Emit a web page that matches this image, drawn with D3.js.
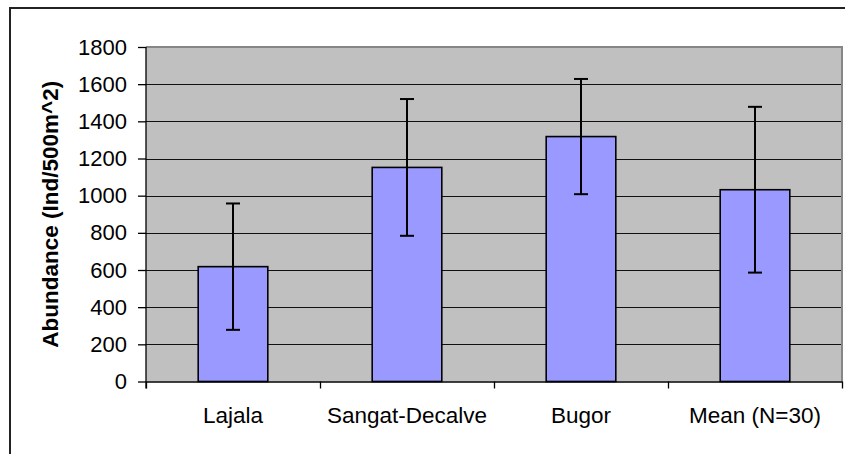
<!DOCTYPE html>
<html>
<head>
<meta charset="utf-8">
<script src="https://cdn.jsdelivr.net/npm/d3@7"></script>
<style>
  body { margin: 0; background: #fff; }
  svg text { font-family: "Liberation Sans", Arial, sans-serif; fill: #000; }
</style>
</head>
<body>
<script>
// data
const categories = ["Lajala", "Sangat-Decalve", "Bugor", "Mean (N=30)"];
const abundance = [618, 1152, 1318, 1032];
const stdError = [340, 368, 310, 446];
const yTicks = [0, 200, 400, 600, 800, 1000, 1200, 1400, 1600, 1800];

const width = 845;
const height = 454;
const plot = { left: 146, right: 842, top: 47, bottom: 381.5 };

const svg = d3.select("body")
    .append("svg")
    .attr("width", width)
    .attr("height", height);

// outer chart border (only top and left edges show in the crop)
svg.append("path")
    .attr("d", `M10,${height} V8 H${width}`)
    .attr("fill", "none")
    .attr("stroke", "#222")
    .attr("stroke-width", 2);

const x = d3.scaleBand()
    .domain(categories)
    .range([plot.left, plot.right])
    .paddingInner(0.6)
    .paddingOuter(0.3);

const y = d3.scaleLinear()
    .domain([0, 1800])
    .range([plot.bottom, plot.top]);

// grey plot area
svg.append("rect")
    .attr("x", plot.left)
    .attr("y", plot.top)
    .attr("width", plot.right - plot.left)
    .attr("height", plot.bottom - plot.top)
    .attr("fill", "#c0c0c0");

// gridlines
svg.append("g")
    .selectAll("line")
    .data(yTicks.filter(d => d > 0 && d < 1800))
    .enter()
    .append("line")
    .attr("x1", plot.left)
    .attr("x2", plot.right)
    .attr("y1", d => Math.round(y(d)) + 0.5)
    .attr("y2", d => Math.round(y(d)) + 0.5)
    .attr("stroke", "#111")
    .attr("stroke-width", 1);

// top and right border of plot area
svg.append("path")
    .attr("d", `M${plot.left},${plot.top} H${plot.right} V${plot.bottom}`)
    .attr("fill", "none")
    .attr("stroke", "#868686")
    .attr("stroke-width", 2);

// bars
svg.append("g")
    .selectAll("rect")
    .data(categories)
    .enter()
    .append("rect")
    .attr("x", d => x(d))
    .attr("y", (d, i) => y(abundance[i]))
    .attr("width", x.bandwidth())
    .attr("height", (d, i) => y(0) - y(abundance[i]))
    .attr("fill", "#9999ff")
    .attr("stroke", "#000")
    .attr("stroke-width", 1.6);

// error bars
const err = svg.append("g")
    .attr("stroke", "#000")
    .attr("stroke-width", 2);

categories.forEach(function(c, i) {
    let cx = x(c) + x.bandwidth() / 2;
    let hi = y(abundance[i] + stdError[i]);
    let lo = y(abundance[i] - stdError[i]);
    err.append("line").attr("x1", cx).attr("x2", cx).attr("y1", hi).attr("y2", lo);
    err.append("line").attr("x1", cx - 7).attr("x2", cx + 7).attr("y1", hi).attr("y2", hi);
    err.append("line").attr("x1", cx - 7).attr("x2", cx + 7).attr("y1", lo).attr("y2", lo);
});

// y axis
const yAxis = svg.append("g")
    .attr("transform", `translate(${plot.left},0)`)
    .call(d3.axisLeft(y).tickValues(yTicks).tickFormat(d3.format("d"))
        .tickSize(8).tickPadding(11).tickSizeOuter(0));
yAxis.select(".domain").attr("d", `M0,${plot.top} V${plot.bottom + 7}`);
yAxis.selectAll("line, .domain").attr("stroke", "#000").attr("stroke-width", 1.3);
yAxis.selectAll("text").style("font-size", "22px");

// x axis ticks at category boundaries
const xb = d3.scaleLinear().domain([0, 4]).range([plot.left, plot.right]);
const xAxis = svg.append("g")
    .attr("transform", `translate(0,${plot.bottom})`)
    .call(d3.axisBottom(xb).tickValues([0, 1, 2, 3, 4]).tickSize(7).tickFormat("").tickSizeOuter(0));
xAxis.selectAll("line, .domain").attr("stroke", "#000").attr("stroke-width", 1.3);

// category labels
svg.append("g")
    .selectAll("text")
    .data(categories)
    .enter()
    .append("text")
    .attr("x", d => x(d) + x.bandwidth() / 2)
    .attr("y", 423)
    .attr("text-anchor", "middle")
    .style("font-size", "22.5px")
    .text(d => d);

// y axis title
svg.append("text")
    .attr("transform", `translate(58,${(plot.top + plot.bottom) / 2}) rotate(-90)`)
    .attr("text-anchor", "middle")
    .style("font-size", "22.5px")
    .style("font-weight", "bold")
    .text("Abundance (Ind/500m^2)");
</script>
</body>
</html>
